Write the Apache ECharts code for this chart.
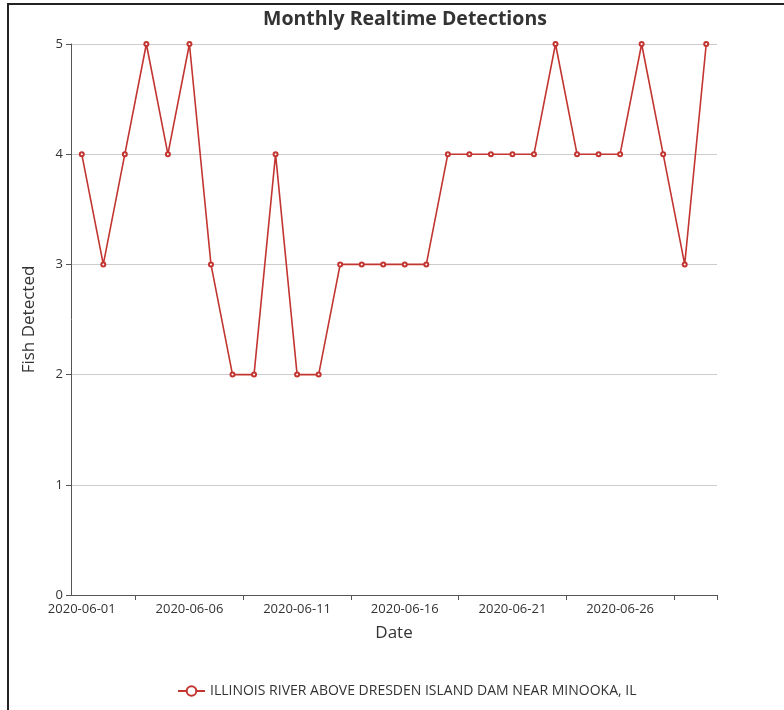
<!DOCTYPE html>
<html>
<head>
<meta charset="utf-8">
<script src="https://cdn.jsdelivr.net/npm/echarts@6/dist/echarts.min.js"></script>
<style>
  html, body { margin: 0; padding: 0; background: #fff; }
  #main { width: 784px; height: 710px; }
  .frame {
    position: absolute; left: 7px; top: 3px; width: 800px; height: 720px;
    border-left: 2px solid #222; border-top: 2px solid #222; pointer-events: none;
  }
</style>
</head>
<body>
<div id="main"></div>
<div class="frame"></div>
<script>
  var dates = [];
  for (var d = 1; d <= 30; d++) {
    dates.push('2020-06-' + (d < 10 ? '0' + d : d));
  }
  var seriesName = 'ILLINOIS RIVER ABOVE DRESDEN ISLAND DAM NEAR MINOOKA, IL';
  var detections = [4, 3, 4, 5, 4, 5, 3, 2, 2, 4, 2, 2, 3, 3, 3, 3, 3, 4, 4, 4, 4, 4, 5, 4, 4, 4, 5, 4, 3, 5];

  var font = '"Open Sans", sans-serif';
  var myChart = echarts.init(document.getElementById('main'));
  var option = {
    textStyle: { fontFamily: font },
    title: {
      text: 'Monthly Realtime Detections',
      left: 258,
      top: 4,
      textStyle: { fontSize: 19.5, fontWeight: 'bold', color: '#333', fontFamily: font }
    },
    legend: {
      bottom: 7,
      left: 172,
      itemWidth: 27,
      itemHeight: 12,
      textStyle: { fontSize: 14, color: '#333', fontFamily: font },
      data: [seriesName]
    },
    grid: { left: 71, right: 67, top: 44, bottom: 115 },
    xAxis: {
      type: 'category',
      data: dates,
      name: 'Date',
      nameLocation: 'middle',
      nameGap: 30,
      nameTextStyle: { fontSize: 17, color: '#333' },
      axisLine: { show: true, lineStyle: { color: '#555' } },
      axisTick: {
        show: true,
        interval: function (idx) { return idx % 5 === 3; }
      },
      axisLabel: { color: '#333', fontSize: 13, interval: 4 }
    },
    yAxis: {
      type: 'value',
      min: 0,
      max: 5,
      interval: 1,
      name: 'Fish Detected',
      nameLocation: 'middle',
      nameGap: 33,
      nameTextStyle: { fontSize: 17, color: '#333' },
      axisLine: { show: true, lineStyle: { color: '#555' } },
      axisTick: { show: true },
      axisLabel: { color: '#333', fontSize: 13 },
      splitLine: { lineStyle: { color: '#ccc' } }
    },
    series: [{
      name: seriesName,
      type: 'line',
      data: detections,
      symbol: 'emptyCircle',
      symbolSize: 4,
      itemStyle: { color: '#c23531' },
      lineStyle: { width: 1.6, color: '#c23531' }
    }]
  };
  myChart.setOption(option);
</script>
</body>
</html>
